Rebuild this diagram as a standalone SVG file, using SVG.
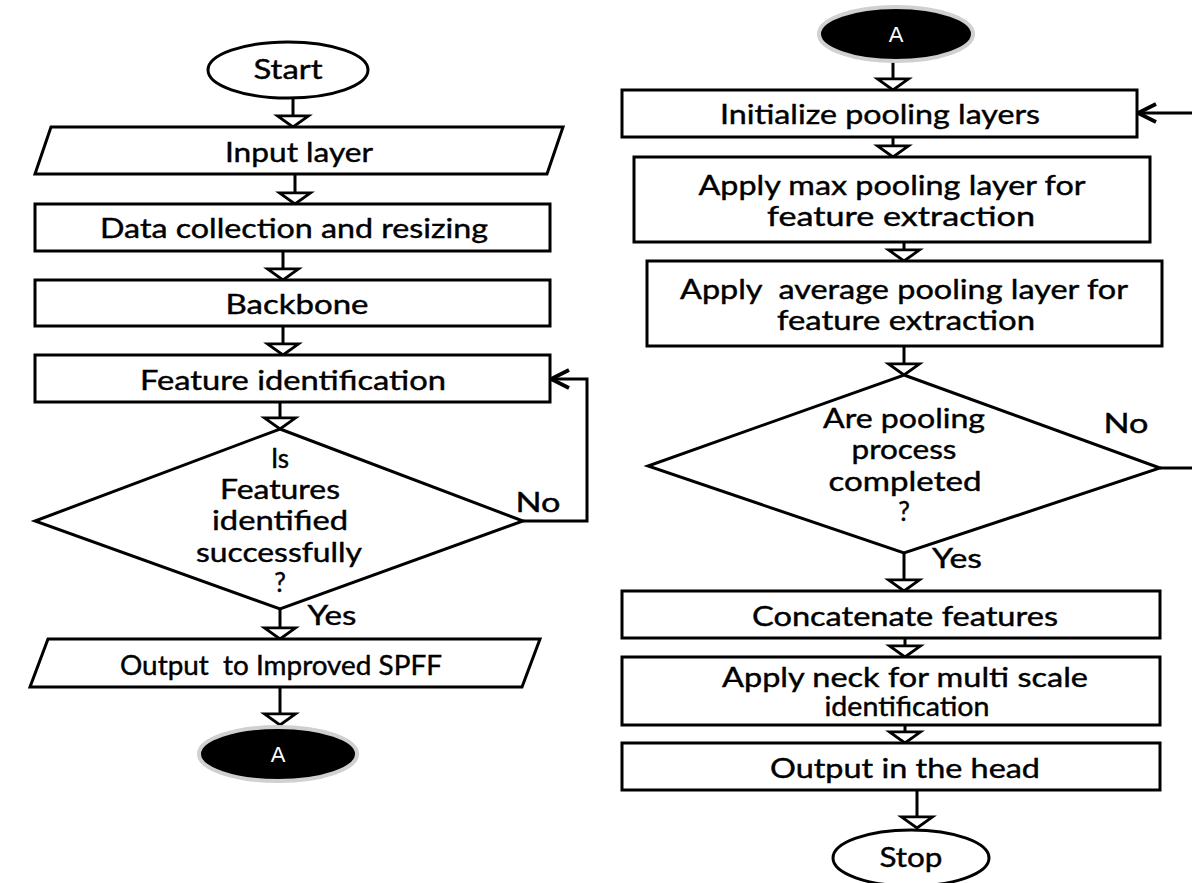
<svg xmlns="http://www.w3.org/2000/svg" width="1192" height="883" viewBox="0 0 1192 883">
<style>
.s{fill:#fff;stroke:#000;stroke-width:3}
.t{font-family:Lato,"Open Sans","Liberation Sans",sans-serif;font-size:26px;fill:#000;stroke:#000;stroke-width:0.4;text-anchor:middle}
.w{font-family:"Liberation Sans",Arial,sans-serif;font-size:22px;fill:#fff;text-anchor:middle}
.c line,.c polyline{stroke:#000;stroke-width:3;fill:none}
.dark{fill:#000;stroke:#d0d0d0;stroke-width:4}
</style>
<defs>
<marker id="tri" markerUnits="userSpaceOnUse" markerWidth="40" markerHeight="40" refX="10" refY="0" viewBox="-4 -18 18 36" orient="auto">
<path d="M0,-14 L10,0 L0,14 Z" fill="#fff" stroke="#000" stroke-width="2.5"/>
</marker>
<marker id="chev" markerUnits="userSpaceOnUse" markerWidth="30" markerHeight="30" refX="0" refY="0" viewBox="-16 -10 20 20" orient="auto">
<path d="M-12,-6 L0,0 L-12,6" fill="none" stroke="#000" stroke-width="2.5"/>
</marker>
</defs>
<rect width="1192" height="883" fill="#fff"/>
<g class="c" id="connectors">
<line x1="293" y1="98" x2="293" y2="127" marker-end="url(#tri)"/>
<line x1="295" y1="174" x2="295" y2="204" marker-end="url(#tri)"/>
<line x1="283" y1="251" x2="283" y2="280" marker-end="url(#tri)"/>
<line x1="283" y1="326" x2="283" y2="355" marker-end="url(#tri)"/>
<line x1="280" y1="402" x2="280" y2="429" marker-end="url(#tri)"/>
<polyline points="523,521 587,521 587,379 551,379" marker-end="url(#chev)"/>
<line x1="280" y1="609" x2="280" y2="639" marker-end="url(#tri)"/>
<line x1="280" y1="687" x2="280" y2="725" marker-end="url(#tri)"/>
<line x1="893" y1="62" x2="893" y2="90" marker-end="url(#tri)"/>
<line x1="893" y1="137" x2="893" y2="157" marker-end="url(#tri)"/>
<line x1="904" y1="242" x2="904" y2="261" marker-end="url(#tri)"/>
<line x1="904" y1="346" x2="904" y2="375" marker-end="url(#tri)"/>
<line x1="1160" y1="468" x2="1192" y2="468"/>
<line x1="1192" y1="113" x2="1138" y2="113" marker-end="url(#chev)"/>
<line x1="904" y1="553" x2="904" y2="591" marker-end="url(#tri)"/>
<line x1="905" y1="638" x2="905" y2="657" marker-end="url(#tri)"/>
<line x1="905" y1="725" x2="905" y2="743" marker-end="url(#tri)"/>
<line x1="917" y1="790" x2="917" y2="828" marker-end="url(#tri)"/>
</g>
<g id="start"><ellipse class="s" cx="288" cy="70" rx="80" ry="28"/><text class="t" x="288" y="79" textLength="69" lengthAdjust="spacingAndGlyphs">Start</text></g>
<g id="input"><polygon class="s" points="51,127 563,127 547,174 35,174"/><text class="t" x="299" y="162" textLength="148" lengthAdjust="spacingAndGlyphs">Input layer</text></g>
<g id="data"><rect class="s" x="35" y="204" width="515" height="47"/><text class="t" x="294" y="238" textLength="388" lengthAdjust="spacingAndGlyphs">Data collection and resizing</text></g>
<g id="backbone"><rect class="s" x="35" y="280" width="515" height="46"/><text class="t" x="297" y="314" textLength="143" lengthAdjust="spacingAndGlyphs">Backbone</text></g>
<g id="featid"><rect class="s" x="35" y="355" width="515" height="47"/><text class="t" x="293" y="390" textLength="306" lengthAdjust="spacingAndGlyphs">Feature identification</text></g>
<g id="dec1"><polygon class="s" points="280,429 523,521 280,609 35,521"/>
<text class="t" x="280" y="468">Is</text><text class="t" x="280" y="499" textLength="120" lengthAdjust="spacingAndGlyphs">Features</text><text class="t" x="280" y="530" textLength="136" lengthAdjust="spacingAndGlyphs">identified</text><text class="t" x="279" y="562" textLength="166" lengthAdjust="spacingAndGlyphs">successfully</text><text class="t" x="280" y="592">?</text>
<text class="t" x="538" y="512" textLength="45" lengthAdjust="spacingAndGlyphs">No</text><text class="t" x="332" y="625" textLength="49" lengthAdjust="spacingAndGlyphs">Yes</text></g>
<g id="output1"><polygon class="s" points="48,639 540,639 522,687 30,687"/><text class="t" x="281" y="675" textLength="322" lengthAdjust="spacingAndGlyphs">Output&#160; to Improved SPFF</text></g>
<g id="a1"><ellipse class="dark" cx="278" cy="754" rx="79" ry="27"/><text class="w" x="278" y="762">A</text></g>
<g id="a2"><ellipse class="dark" cx="896" cy="34" rx="77" ry="27"/><text class="w" x="896" y="42">A</text></g>
<g id="init"><rect class="s" x="622" y="90" width="515" height="47"/><text class="t" x="880" y="124" textLength="320" lengthAdjust="spacingAndGlyphs">Initialize pooling layers</text></g>
<g id="maxp"><rect class="s" x="634" y="157" width="516" height="85"/><text class="t" x="892" y="195" textLength="387" lengthAdjust="spacingAndGlyphs">Apply max pooling layer for</text><text class="t" x="901" y="226" textLength="268" lengthAdjust="spacingAndGlyphs">feature extraction</text></g>
<g id="avgp"><rect class="s" x="647" y="261" width="515" height="85"/><text class="t" x="904" y="299" textLength="448" lengthAdjust="spacingAndGlyphs">Apply&#160; average pooling layer for</text><text class="t" x="906" y="330" textLength="258" lengthAdjust="spacingAndGlyphs">feature extraction</text></g>
<g id="dec2"><polygon class="s" points="904,375 1160,468 904,553 648,466"/>
<text class="t" x="904" y="428" textLength="162" lengthAdjust="spacingAndGlyphs">Are pooling</text><text class="t" x="904" y="459" textLength="105" lengthAdjust="spacingAndGlyphs">process</text><text class="t" x="905" y="491" textLength="153" lengthAdjust="spacingAndGlyphs">completed</text><text class="t" x="904" y="521">?</text>
<text class="t" x="1126" y="433" textLength="45" lengthAdjust="spacingAndGlyphs">No</text><text class="t" x="957" y="568" textLength="50" lengthAdjust="spacingAndGlyphs">Yes</text></g>
<g id="concat"><rect class="s" x="622" y="591" width="538" height="47"/><text class="t" x="905" y="626" textLength="306" lengthAdjust="spacingAndGlyphs">Concatenate features</text></g>
<g id="neck"><rect class="s" x="622" y="657" width="538" height="68"/><text class="t" x="905" y="687" textLength="366" lengthAdjust="spacingAndGlyphs">Apply neck for multi scale</text><text class="t" x="907" y="716" textLength="165" lengthAdjust="spacingAndGlyphs">identification</text></g>
<g id="head"><rect class="s" x="622" y="743" width="538" height="47"/><text class="t" x="905" y="778" textLength="270" lengthAdjust="spacingAndGlyphs">Output in the head</text></g>
<g id="stop"><ellipse class="s" cx="911" cy="858" rx="78" ry="28"/><text class="t" x="911" y="867" textLength="63" lengthAdjust="spacingAndGlyphs">Stop</text></g>
</svg>
